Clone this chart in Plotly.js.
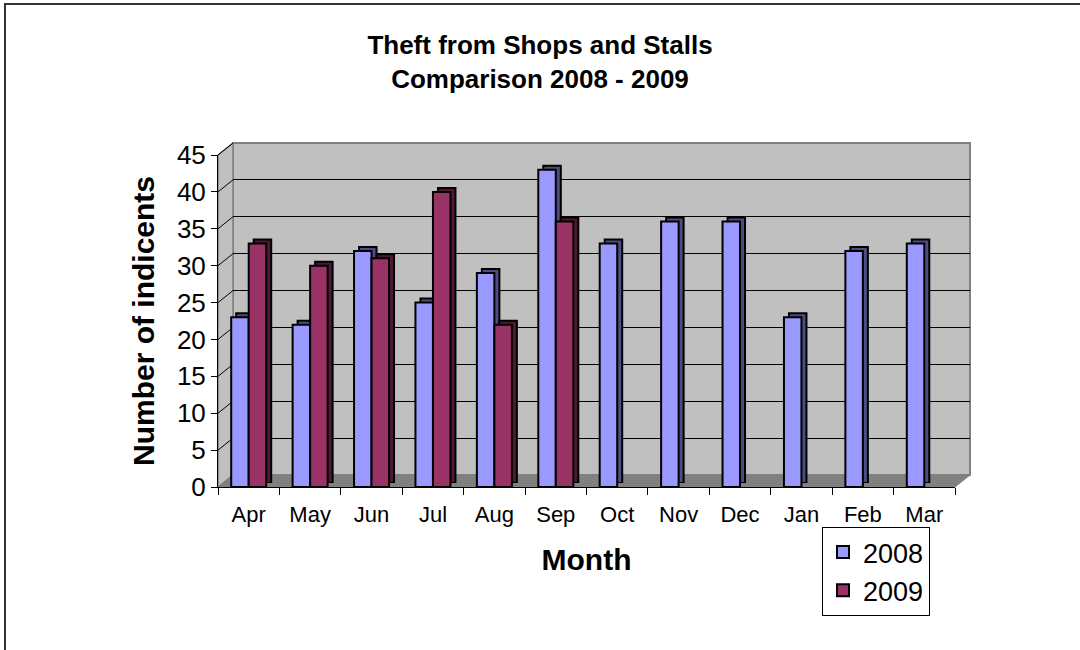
<!DOCTYPE html>
<html>
<head>
<meta charset="utf-8">
<script src="https://cdn.plot.ly/plotly-3.0.1.min.js"></script>
<style>html,body{margin:0;padding:0;background:#fff;}#chart{width:1080px;height:650px;}</style>
</head>
<body>
<div id="chart"></div>
<script>
const months = ["Apr","May","Jun","Jul","Aug","Sep","Oct","Nov","Dec","Jan","Feb","Mar"];
const values2008 = [23,22,32,25,29,43,33,36,36,23,32,33];
const values2009 = [33,30,31,40,22,36,null,null,null,null,null,null];
const seriesNames = ["2008","2009"];
const yTicks = [0,5,10,15,20,25,30,35,40,45];

const FONT = "Liberation Sans, Arial, Helvetica, sans-serif";
const colFront = ["#9999ff","#993366"];
const colSide = ["#4d4d80","#4d1a33"];

// geometry of the pseudo-3D frame (in paper fractions)
const W = 752, H = 344, depthX = 15, depthY = 12, barDX = 5, barDY = 4;
const fx = (W - depthX) / W, fy = (H - depthY) / H;
const bx = depthX / W, by = depthY / H;

const traces = [
  {type:"scatter", x: months, y: values2008, xaxis:"x", yaxis:"y", mode:"lines",
   line:{width:0}, opacity:0, hoverinfo:"skip", showlegend:false},
  {type:"bar", name: seriesNames[0], x: months, y: values2008, xaxis:"x2", yaxis:"y2",
   marker:{color: colSide[0], line:{color:"#000", width:2}}, showlegend:false, hoverinfo:"skip"},
  {type:"bar", name: seriesNames[1], x: months, y: values2009, xaxis:"x2", yaxis:"y2",
   marker:{color: colSide[1], line:{color:"#000", width:2}}, showlegend:false, hoverinfo:"skip"},
  {type:"bar", name: seriesNames[0], x: months, y: values2008, xaxis:"x3", yaxis:"y3",
   marker:{color: colFront[0], line:{color:"#000", width:2}}, legendgroup:"a"},
  {type:"bar", name: seriesNames[1], x: months, y: values2009, xaxis:"x3", yaxis:"y3",
   marker:{color: colFront[1], line:{color:"#000", width:2}}, legendgroup:"b"}
];

const shapes = [
  {type:"rect", xref:"paper", yref:"paper", x0:-213/W, x1:(1090-218)/W, y0:(487-660)/H, y1:(487-4)/H,
   line:{color:"#333", width:2}, fillcolor:"rgba(0,0,0,0)", layer:"below"},
  {type:"rect", xref:"paper", yref:"paper", x0:bx, x1:1, y0:by, y1:1,
   fillcolor:"#c0c0c0", line:{color:"#808080", width:2}, layer:"below"},
  {type:"path", xref:"paper", yref:"paper",
   path:`M0,0 L0,${fy} L${bx},1 L${bx},${by} Z`, fillcolor:"#c0c0c0", line:{color:"#808080", width:1.5}, layer:"below"},
  {type:"path", xref:"paper", yref:"paper",
   path:`M0,0 L${fx},0 L1,${by} L${bx},${by} Z`, fillcolor:"#808080", line:{color:"#808080", width:1}, layer:"below"}
];
yTicks.forEach(v => {
  if (v === 0) return;
  const f = v / 45 * fy;
  shapes.push({type:"line", xref:"paper", yref:"paper", x0:0, x1:bx, y0:f, y1:f + by,
    line:{color:"#000", width:1}, layer:"below"});
});

const layout = {
  width:1080, height:650,
  margin:{l:218, r:110, t:143, b:163},
  paper_bgcolor:"#ffffff", plot_bgcolor:"rgba(0,0,0,0)",
  font:{family:FONT, color:"#000"},
  title:{text:"<b>Theft from Shops and Stalls<br>Comparison 2008 - 2009</b>",
         font:{family:FONT, size:26, color:"#000"}, x:0.5, xanchor:"center",
         yref:"container", y:1 - 28/650, yanchor:"top", pad:{t:26}},
  barmode:"group", bargap:0.43, bargroupgap:0,
  showlegend:true,
  legend:{x:(822-218)/W, xanchor:"left", y:-40/H, yanchor:"top",
          bordercolor:"#000", borderwidth:1, bgcolor:"#fff",
          font:{family:FONT, size:27, color:"#000"}, tracegroupgap:8, traceorder:"normal"},
  xaxis:{domain:[bx,1], anchor:"y", visible:false, type:"category", categoryarray:months, categoryorder:"array", fixedrange:true},
  yaxis:{domain:[by,1], anchor:"x", range:[0,45], tickvals:yTicks, showticklabels:false, ticks:"",
         showgrid:true, gridcolor:"#000", gridwidth:1, zeroline:false, showline:false, fixedrange:true},
  xaxis2:{domain:[barDX/W, fx + barDX/W], anchor:"y2", visible:false, type:"category", categoryarray:months, categoryorder:"array"},
  yaxis2:{domain:[barDY/H, fy + barDY/H], anchor:"x2", range:[0,45], visible:false},
  xaxis3:{domain:[0,fx], anchor:"y3", type:"category", categoryarray:months, categoryorder:"array",
          showline:true, linecolor:"#000", linewidth:1, ticks:"outside", ticklen:7, tickcolor:"#000",
          tickson:"boundaries", showgrid:false, ticklabelstandoff:8,
          tickfont:{family:FONT, size:22, color:"#000"},
          title:{text:"<b>Month</b>", font:{family:FONT, size:30, color:"#000"}, standoff:22}},
  yaxis3:{domain:[0,fy], anchor:"x3", range:[0,45], tickvals:yTicks, showgrid:false, zeroline:false,
          showline:true, linecolor:"#000", linewidth:1, ticks:"outside", ticklen:6, tickcolor:"#000",
          tickfont:{family:FONT, size:26, color:"#000"},
          title:{text:"<b>Number of indicents</b>", font:{family:FONT, size:30, color:"#000"}, standoff:13}},
  shapes: shapes
};

Plotly.newPlot("chart", traces, layout, {staticPlot:true, displayModeBar:false});
</script>
</body>
</html>
